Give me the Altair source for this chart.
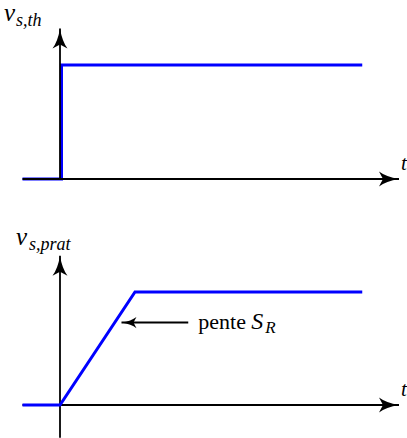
import altair as alt
import pandas as pd

# Time is normalised so that the slew-rate limited ramp ends at t = 1.
# Ideal (theoretical) step response
ideal_t = [-0.5, 0.02, 0.02, 4.03]
ideal_v = [0.0, 0.0, 1.0, 1.0]

# Practical response, limited by the slew rate S_R
real_t = [-0.5, 0.0, 1.0, 4.03]
real_v = [0.0, 0.0, 1.0, 1.0]

# Axis extents (x axis from t_axis[0] to its arrow tip t_axis[1])
t_axis = [-0.5, 4.52]
v_tip = 1.32
v_low_top = 0.0
v_low_bottom = -0.29

# Slope annotation arrow: tail and head along t, at height slope_arrow_v
slope_arrow_t = [1.71, 0.82]
slope_arrow_v = 0.73

labels_top = ["v", "s,th"]
labels_bottom = ["v", "s,prat"]

BLUE = "#0000ff"
BLACK = "#000000"
SERIF = "Liberation Serif"
W, H = 407, 438

# Stealth-like arrowhead pointing up (tip at y = -1)
ARROW = "M0,-1 Q0.22,0.3 0.75,1 L0,0.6 L-0.75,1 Q-0.22,0.3 0,-1 Z"

x_scale = alt.Scale(domain=[-0.8, 4.6267], nice=False, zero=False)
# Each graph gets its own vertical scale; both share the full drawing height
top_scale = alt.Scale(domain=[-2.272, 1.5702], nice=False, zero=False)
bottom_scale = alt.Scale(domain=[-0.292, 3.584], nice=False, zero=False)


def graph(t, v, ys, v_low, label, offsets, signal_on_top, extra=()):
    X = lambda f: alt.X(f, type="quantitative", scale=x_scale, axis=None)
    Y = lambda f: alt.Y(f, type="quantitative", scale=ys, axis=None)

    sig = pd.DataFrame({"t": t, "v": v, "k": list(range(len(t)))})
    signal = alt.Chart(sig).mark_line(
        color=BLUE, strokeWidth=3, strokeJoin="miter", strokeCap="butt"
    ).encode(x=X("t"), y=Y("v"), order="k:Q")

    x_rule = alt.Chart(pd.DataFrame({"t0": [t_axis[0]], "t1": [t_axis[1]], "v": [0.0]})).mark_rule(
        color=BLACK, strokeWidth=1.8
    ).encode(x=X("t0"), x2="t1:Q", y=Y("v"))

    y_rule = alt.Chart(pd.DataFrame({"t": [0.0], "v0": [v_low], "v1": [v_tip]})).mark_rule(
        color=BLACK, strokeWidth=1.8
    ).encode(x=X("t"), y=Y("v0"), y2="v1:Q")

    up_head = alt.Chart(pd.DataFrame({"t": [0.0], "v": [v_tip]})).mark_point(
        shape=ARROW, filled=True, size=400, color=BLACK, opacity=1, strokeWidth=0, yOffset=10
    ).encode(x=X("t"), y=Y("v"))

    right_head = alt.Chart(pd.DataFrame({"t": [t_axis[1]], "v": [0.0]})).mark_point(
        shape=ARROW, filled=True, size=400, color=BLACK, opacity=1, strokeWidth=0, angle=90, xOffset=-10
    ).encode(x=X("t"), y=Y("v"))

    tip = pd.DataFrame({"t": [0.0], "v": [v_tip]})
    main_lbl = alt.Chart(tip).mark_text(
        text=label[0], font=SERIF, fontStyle="italic", fontSize=25, align="left",
        baseline="alphabetic", dx=offsets[0], dy=offsets[1], color=BLACK
    ).encode(x=X("t"), y=Y("v"))
    sub_lbl = alt.Chart(tip).mark_text(
        text=label[1], font=SERIF, fontStyle="italic", fontSize=18, align="left",
        baseline="alphabetic", dx=offsets[2], dy=offsets[3], color=BLACK
    ).encode(x=X("t"), y=Y("v"))

    t_lbl = alt.Chart(pd.DataFrame({"t": [t_axis[1]], "v": [0.0]})).mark_text(
        text="t", font=SERIF, fontStyle="italic", fontSize=21, align="left",
        baseline="alphabetic", dx=2, dy=-9, color=BLACK
    ).encode(x=X("t"), y=Y("v"))

    axes = [x_rule, y_rule, up_head, right_head]
    layers = (axes + [signal]) if signal_on_top else ([signal] + axes)
    return alt.layer(*layers, main_lbl, sub_lbl, t_lbl, *extra)


# Slope annotation on the practical response
BX = alt.X("t0:Q", scale=x_scale, axis=None)
BY = alt.Y("v:Q", scale=bottom_scale, axis=None)
arrow_df = pd.DataFrame({"t0": [slope_arrow_t[0]], "t1": [slope_arrow_t[1]], "v": [slope_arrow_v]})
slope_line = alt.Chart(arrow_df).mark_rule(color=BLACK, strokeWidth=1.8).encode(
    x=BX, x2="t1:Q", y=BY)
slope_head = alt.Chart(arrow_df).mark_point(
    shape=ARROW, filled=True, size=225, color=BLACK, opacity=1, strokeWidth=0, angle=270, xOffset=7.5
).encode(x=alt.X("t1:Q", scale=x_scale, axis=None), y=BY)
pente = alt.Chart(arrow_df).mark_text(
    text="pente", font=SERIF, fontSize=22, align="left", baseline="alphabetic", dx=10, dy=6, color=BLACK
).encode(x=BX, y=BY)
s_lbl = alt.Chart(arrow_df).mark_text(
    text="S", font=SERIF, fontStyle="italic", fontSize=24, align="left", baseline="alphabetic",
    dx=63, dy=6, color=BLACK
).encode(x=BX, y=BY)
r_lbl = alt.Chart(arrow_df).mark_text(
    text="R", font=SERIF, fontStyle="italic", fontSize=17, align="left", baseline="alphabetic",
    dx=77, dy=10, color=BLACK
).encode(x=BX, y=BY)

top = graph(ideal_t, ideal_v, top_scale, v_low_top, labels_top,
            (-56, -8, -44, -3), signal_on_top=False)
bottom = graph(real_t, real_v, bottom_scale, v_low_bottom, labels_bottom,
               (-44, -11, -31, -6), signal_on_top=True,
               extra=(slope_line, slope_head, pente, s_lbl, r_lbl))

chart = alt.layer(top, bottom).resolve_scale(y="independent").properties(
    width=W, height=H, padding=0,
    autosize=alt.AutoSizeParams(type="none")
).configure_view(stroke=None)

chart.save("out.html", embed_options={"renderer": "svg", "actions": False})
